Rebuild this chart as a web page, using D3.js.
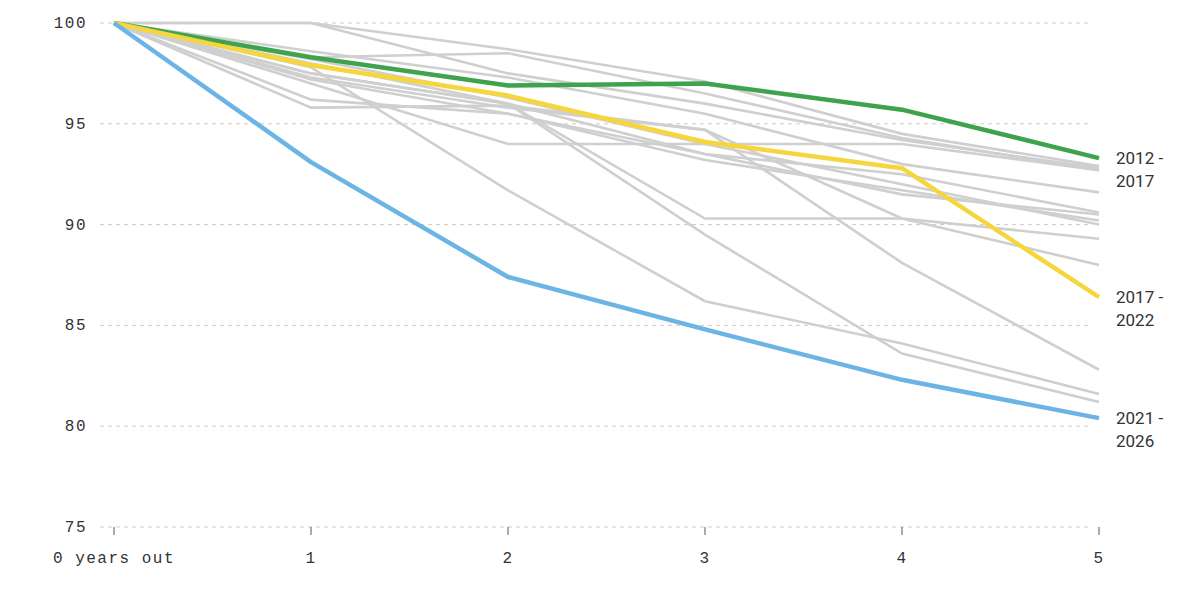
<!DOCTYPE html><html><head><meta charset="utf-8"><script src="https://cdn.jsdelivr.net/npm/d3@7"></script>
<style>body{margin:0;background:#fff}</style></head><body><svg id="c" width="1200" height="591"></svg>
<script>
const years=[0,1,2,3,4,5];
const yTicks=[75,80,85,90,95,100];
const grayLines=[
[100,100,98.7,97.1,94.5,92.9],
[100,100,97.5,96.0,94.2,92.8],
[100,98.3,98.5,96.5,94.3,92.7],
[100,95.8,95.9,94.7,90.3,89.3],
[100,97.5,96.0,90.3,90.3,88.0],
[100,97.0,94.0,94.0,94.0,92.7],
[100,97.8,91.7,86.2,84.1,81.6],
[100,97.5,96.0,89.5,83.6,81.2],
[100,97.3,95.8,94.7,88.1,82.8],
[100,98.0,96.0,93.5,91.5,90.5],
[100,97.2,95.5,93.2,91.7,90.2],
[100,98.2,96.3,94.0,92.0,90.0],
[100,98.6,97.3,95.5,93.0,91.6],
[100,96.2,95.5,93.5,92.5,90.6]];
const green=[100,98.3,96.9,97.0,95.7,93.3];
const yellow=[100,97.9,96.4,94.1,92.8,86.4];
const blue=[100,93.1,87.4,84.8,82.3,80.4];
const highlights=[{label:["2012 -","2017"],v:green,c:"#3fa34d"},{label:["2017 -","2022"],v:yellow,c:"#f5d63d"},{label:["2021 -","2026"],v:blue,c:"#6cb4e4"}];
const svg=d3.select("#c");
const x=d3.scaleLinear().domain([0,5]).range([114,1099]);
const y=d3.scaleLinear().domain([75,100]).range([527,23]);
const mono="'Liberation Mono','DejaVu Sans Mono',monospace";
svg.append("g").selectAll("line").data(yTicks).join("line")
 .attr("x1",100).attr("x2",1090).attr("y1",d=>y(d)).attr("y2",d=>y(d))
 .attr("stroke","#ccc").attr("stroke-dasharray","4,4");
svg.append("g").selectAll("text").data(yTicks).join("text")
 .attr("x",87).attr("y",d=>y(d)+5).attr("text-anchor","end").attr("font-family",mono).attr("font-size",16).attr("letter-spacing",1.5).attr("fill","#333").text(d=>d);
svg.append("g").selectAll("line").data(years).join("line")
 .attr("x1",d=>x(d)).attr("x2",d=>x(d)).attr("y1",527).attr("y2",535).attr("stroke","#555");
svg.append("g").selectAll("text").data(years).join("text")
 .attr("x",d=>x(d)).attr("y",563).attr("text-anchor","middle").attr("font-family",mono).attr("font-size",16).attr("letter-spacing",1.5).attr("fill","#333").text(d=>d===0?"0 years out":d);
const line=d3.line().x((d,i)=>x(years[i])).y(d=>y(d));
svg.append("g").selectAll("path").data(grayLines).join("path").attr("d",line).attr("fill","none").attr("stroke","#cfcfcf").attr("stroke-width",2.6);
highlights.forEach(h=>{
 svg.append("path").attr("d",line(h.v)).attr("fill","none").attr("stroke",h.c).attr("stroke-width",4.5).attr("stroke-linejoin","round");
 const t=svg.append("text").attr("x",1116).attr("y",y(h.v[5])+6).attr("font-family","'Liberation Sans Narrow','Roboto',sans-serif").attr("font-size",17).attr("fill","#333");
 t.append("tspan").attr("x",1116).text(h.label[0]);
 t.append("tspan").attr("x",1116).attr("dy",23).text(h.label[1]);
});
</script></body></html>
